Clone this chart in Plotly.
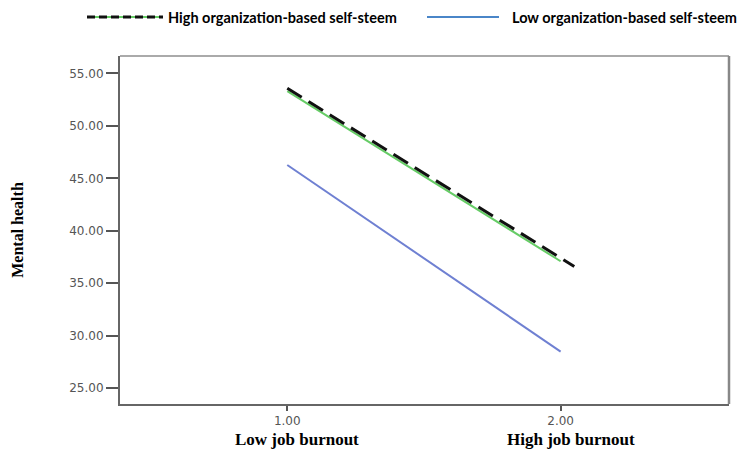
import plotly.graph_objects as go

# ---- data ----
burnout_levels = [1, 2]
high_green_y = [53.3, 37.1]
high_dash_x = [1, 2.05]
high_dash_y = [53.57, 36.6]
low_y = [46.27, 28.49]
x_tick_vals = [1, 2]
x_tick_text = ["1.00", "2.00"]
y_tick_vals = [25, 30, 35, 40, 45, 50, 55]
category_labels = ["Low job burnout", "High job burnout"]
series_names = ["High organization-based self-steem", "Low organization-based self-steem"]

fig = go.Figure()
fig.add_trace(go.Scatter(x=burnout_levels, y=high_green_y, mode="lines",
                         line=dict(color="#66cc66", width=2), showlegend=False,
                         name=series_names[0]))
fig.add_trace(go.Scatter(x=high_dash_x, y=high_dash_y, mode="lines",
                         line=dict(color="#111111", width=3, dash="17px,8px"),
                         showlegend=False, name=series_names[0]))
fig.add_trace(go.Scatter(x=burnout_levels, y=low_y, mode="lines",
                         line=dict(color="#6f80d2", width=2), showlegend=False,
                         name=series_names[1]))

W, H = 740, 450
L, R, T, B = 120, 11, 56, 46
pw, ph = W - L - R, H - T - B

def px(xp):
    return (xp - L) / pw

def py(yp):
    return (H - B - yp) / ph

tick_font = dict(family="DejaVu Sans", size=12, color="#555")

fig.update_layout(
    width=W, height=H,
    margin=dict(l=L, r=R, t=T, b=B),
    paper_bgcolor="white", plot_bgcolor="white",
    showlegend=False,
    xaxis=dict(range=[0.388, 2.616], tickvals=x_tick_vals, ticktext=x_tick_text,
               ticks="outside", ticklen=5, tickcolor="#555", tickwidth=1.5,
               showgrid=False, zeroline=False, showline=True, linecolor="#666",
               linewidth=2, tickfont=tick_font),
    yaxis=dict(range=[23.5, 56.65], tickvals=y_tick_vals, tickformat=".2f",
               ticks="outside", ticklen=12, tickcolor="#555", tickwidth=1.5,
               showgrid=False, zeroline=False, showline=True, linecolor="#666",
               linewidth=2, tickfont=tick_font,
               title=dict(text="<b>Mental health</b>", standoff=42,
                          font=dict(family="Liberation Serif", size=16, color="black"))),
)

# top / right frame lines
fig.add_shape(type="line", xref="paper", yref="paper", x0=0, x1=1, y0=1, y1=1,
              line=dict(color="#aaaaaa", width=2))
fig.add_shape(type="line", xref="paper", yref="paper", x0=1, x1=1, y0=0, y1=1,
              line=dict(color="#888888", width=2.5))

# category labels under ticks
for xv, lab in zip(x_tick_vals, category_labels):
    fig.add_annotation(x=xv, xref="x", y=py(439), yref="paper", text="<b>" + lab + "</b>",
                       showarrow=False, xshift=10, xanchor="center", yanchor="middle",
                       font=dict(family="Liberation Serif", size=17, color="black"))

# manual legend
ly = py(17)
fig.add_shape(type="line", xref="paper", yref="paper", x0=px(87), x1=px(163), y0=ly, y1=ly,
              line=dict(color="#66cc66", width=2))
fig.add_shape(type="line", xref="paper", yref="paper", x0=px(87), x1=px(163), y0=ly, y1=ly,
              line=dict(color="#111111", width=3, dash="8px,4px"))
fig.add_annotation(x=px(166), xref="paper", y=ly, yref="paper", text="<b>" + series_names[0] + "</b>",
                   showarrow=False, xanchor="left", yanchor="middle",
                   font=dict(family="Lato", size=14.5, color="black"))
fig.add_shape(type="line", xref="paper", yref="paper", x0=px(427), x1=px(499), y0=ly, y1=ly,
              line=dict(color="#4a86c8", width=2))
fig.add_annotation(x=px(510), xref="paper", y=ly, yref="paper", text="<b>" + series_names[1] + "</b>",
                   showarrow=False, xanchor="left", yanchor="middle",
                   font=dict(family="Lato", size=14.5, color="black"))

fig.write_html("out.html", config={"displayModeBar": False},
               post_script="document.body.style.margin='0';")
